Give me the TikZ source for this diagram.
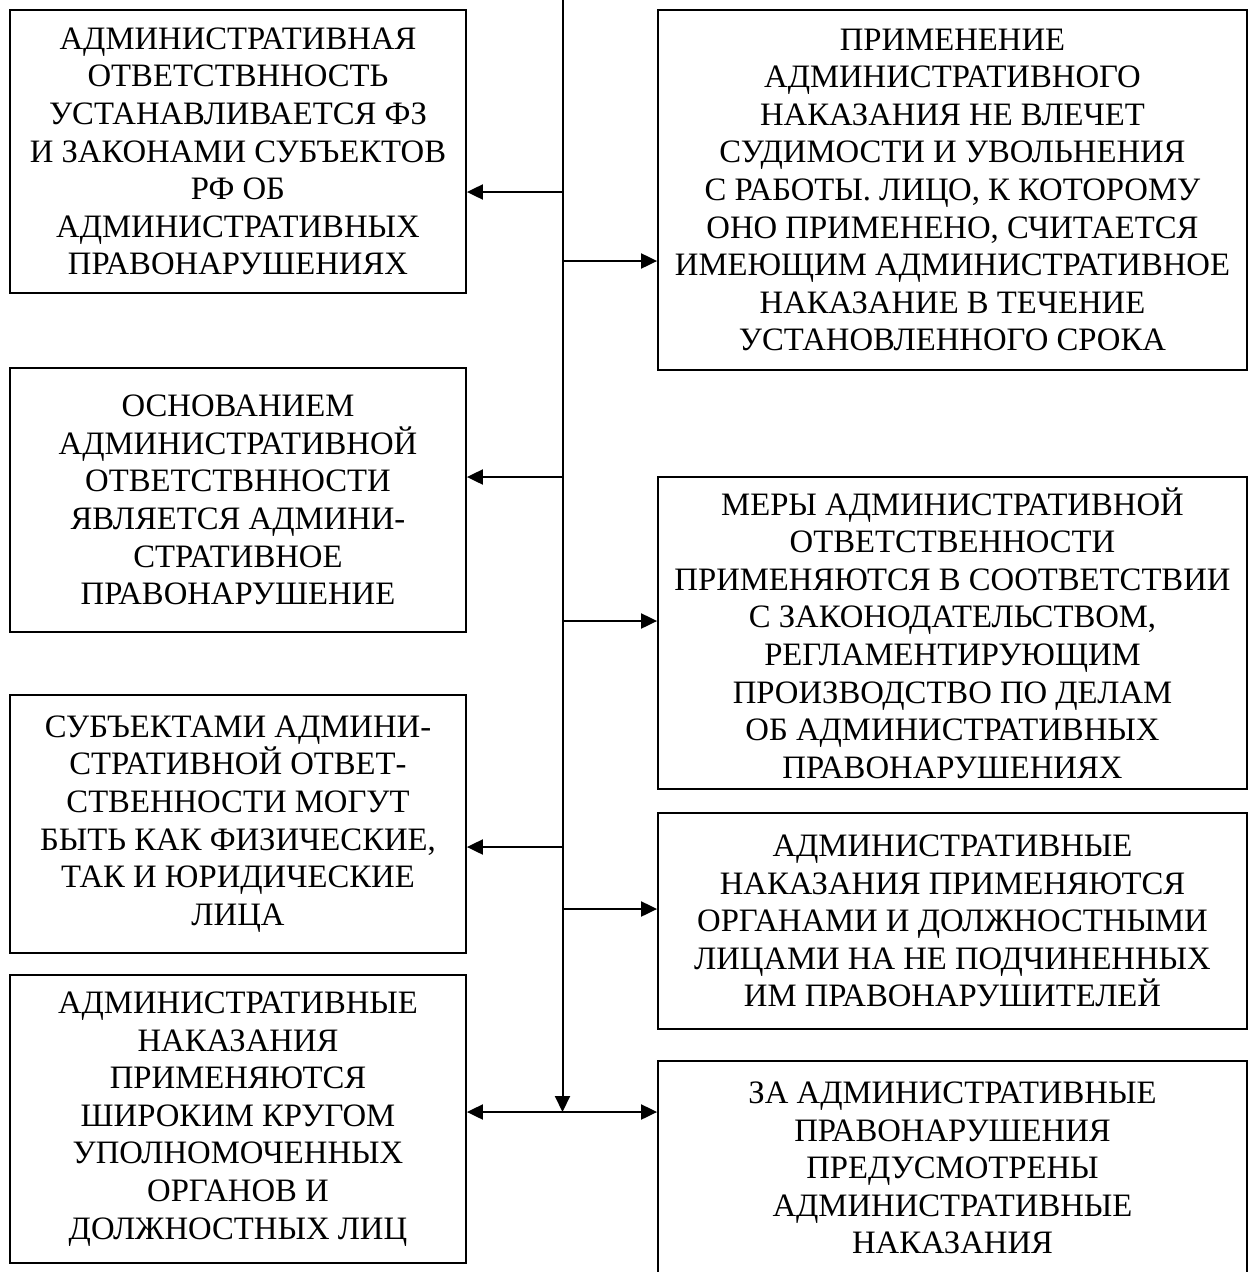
\documentclass[tikz,border=0pt]{standalone}
\usepackage{fontspec}
\setmainfont{Liberation Serif}
\usepackage{tikz}
\usetikzlibrary{arrows.meta,positioning,calc}
\tikzset{
  box_base/.style={rectangle,
    draw=black,line width=1.8pt,fill=white,
    align=center,
    font=\fontsize{32.7}{37.6}\selectfont,
    inner sep=0pt},
  box_left/.style={box_base,minimum width=456pt},
  box_right/.style={box_base,minimum width=589pt},
  arr/.style={-{Triangle[length=16pt,width=15pt]},line width=2pt,draw=black},
  arr_both/.style={{Triangle[length=16pt,width=15pt]}-{Triangle[length=16pt,width=15pt]},
    line width=2pt,draw=black},
}
\begin{document}
\begin{tikzpicture}[x=1pt,y=-1pt]
  \useasboundingbox (0,0) rectangle (1248,1272);
  \node (lb1) [box_left, minimum height=283pt] at (238,151.5)
    {АДМИНИСТРАТИВНАЯ\\ ОТВЕТСТВННОСТЬ\\ УСТАНАВЛИВАЕТСЯ ФЗ\\
     И ЗАКОНАМИ СУБЪЕКТОВ\\ РФ ОБ\\ АДМИНИСТРАТИВНЫХ\\ ПРАВОНАРУШЕНИЯХ};
  \node (lb2) [box_left, minimum height=264pt] at (238,500)
    {ОСНОВАНИЕМ\\ АДМИНИСТРАТИВНОЙ\\ ОТВЕТСТВННОСТИ\\
     ЯВЛЯЕТСЯ АДМИНИ-\\ СТРАТИВНОЕ\\ ПРАВОНАРУШЕНИЕ};
  \node (lb3) [box_left, minimum height=258pt] at (238,824)
    {СУБЪЕКТАМИ АДМИНИ-\\ СТРАТИВНОЙ ОТВЕТ-\\ СТВЕННОСТИ МОГУТ\\
     БЫТЬ КАК ФИЗИЧЕСКИЕ,\\ ТАК И ЮРИДИЧЕСКИЕ\\ ЛИЦА};
  \node (lb4) [box_left, minimum height=288pt] at (238,1119)
    {АДМИНИСТРАТИВНЫЕ\\ НАКАЗАНИЯ\\ ПРИМЕНЯЮТСЯ\\ ШИРОКИМ КРУГОМ\\
     УПОЛНОМОЧЕННЫХ\\ ОРГАНОВ И\\ ДОЛЖНОСТНЫХ ЛИЦ};
  \node (rb1) [box_right, minimum height=360pt] at (952.5,190)
    {ПРИМЕНЕНИЕ\\ АДМИНИСТРАТИВНОГО\\ НАКАЗАНИЯ НЕ ВЛЕЧЕТ\\
     СУДИМОСТИ И УВОЛЬНЕНИЯ\\ С РАБОТЫ. ЛИЦО, К КОТОРОМУ\\
     ОНО ПРИМЕНЕНО, СЧИТАЕТСЯ\\ ИМЕЮЩИМ АДМИНИСТРАТИВНОЕ\\
     НАКАЗАНИЕ В ТЕЧЕНИЕ\\ УСТАНОВЛЕННОГО СРОКА};
  \node (rb2) [box_right, minimum height=312pt] at (952.5,633)
    {МЕРЫ АДМИНИСТРАТИВНОЙ\\ ОТВЕТСТВЕННОСТИ\\ ПРИМЕНЯЮТСЯ В СООТВЕТСТВИИ\\
     С ЗАКОНОДАТЕЛЬСТВОМ,\\ РЕГЛАМЕНТИРУЮЩИМ\\ ПРОИЗВОДСТВО ПО ДЕЛАМ\\
     ОБ АДМИНИСТРАТИВНЫХ\\ ПРАВОНАРУШЕНИЯХ};
  \node (rb3) [box_right, minimum height=216pt] at (952.5,921)
    {АДМИНИСТРАТИВНЫЕ\\ НАКАЗАНИЯ ПРИМЕНЯЮТСЯ\\ ОРГАНАМИ И ДОЛЖНОСТНЫМИ\\
     ЛИЦАМИ НА НЕ ПОДЧИНЕННЫХ\\ ИМ ПРАВОНАРУШИТЕЛЕЙ};
  \node (rb4) [box_right, minimum height=214pt] at (952.5,1168)
    {ЗА АДМИНИСТРАТИВНЫЕ\\ ПРАВОНАРУШЕНИЯ\\ ПРЕДУСМОТРЕНЫ\\
     АДМИНИСТРАТИВНЫЕ\\ НАКАЗАНИЯ};
  \coordinate (top) at (562.5,-5);
  \coordinate (bot) at (562.5,1112);
  \coordinate (l1) at (562.5,192);
  \coordinate (r1) at (562.5,261);
  \coordinate (l2) at (562.5,477);
  \coordinate (r2) at (562.5,621);
  \coordinate (l3) at (562.5,847);
  \coordinate (r3) at (562.5,909);
  \draw[arr] (top) -- (bot);
  \draw[arr] (l1) -- (l1 -| lb1.east);
  \draw[arr] (r1) -- (r1 -| rb1.west);
  \draw[arr] (l2) -- (l2 -| lb2.east);
  \draw[arr] (r2) -- (r2 -| rb2.west);
  \draw[arr] (l3) -- (l3 -| lb3.east);
  \draw[arr] (r3) -- (r3 -| rb3.west);
  \draw[arr_both] (bot -| lb4.east) -- (bot -| rb4.west);
\end{tikzpicture}
\end{document}
